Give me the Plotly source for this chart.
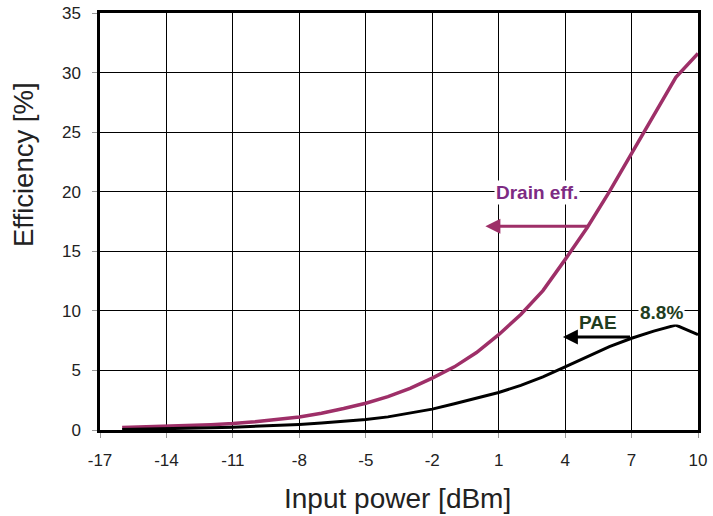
import plotly.graph_objects as go

# Input power sweep [dBm]
pin = [-16, -14, -12, -11, -10, -8, -7, -6, -5, -4, -3, -2, -1, 0, 1, 2, 3, 4, 5, 6, 7, 8, 9, 10]
# Drain efficiency [%]
drain_eff = [0.2, 0.3, 0.45, 0.55, 0.7, 1.1, 1.4, 1.8, 2.25, 2.8, 3.5, 4.35, 5.3, 6.5, 8.0, 9.7, 11.7, 14.3, 17.0, 20.0, 23.2, 26.3, 29.6, 31.6]
# Power added efficiency [%]
pae = [0.05, 0.1, 0.18, 0.24, 0.3, 0.47, 0.58, 0.7, 0.88, 1.1, 1.4, 1.75, 2.2, 2.65, 3.15, 3.75, 4.45, 5.3, 6.15, 7.0, 7.7, 8.3, 8.8, 8.0]

x_ticks = [-17, -14, -11, -8, -5, -2, 1, 4, 7, 10]
y_ticks = [0, 5, 10, 15, 20, 25, 30, 35]

DRAIN_COLOR = "#9e2f68"
DRAIN_TEXT = "#7d2b83"
PAE_TEXT = "#1f3d20"

W, H = 713, 516
ML, MR, MT, MB = 100, 15, 13, 86

fig = go.Figure()
fig.add_trace(go.Scatter(x=pin, y=drain_eff, mode="lines",
                         line=dict(color=DRAIN_COLOR, width=3.5), showlegend=False))
fig.add_trace(go.Scatter(x=pin, y=pae, mode="lines",
                         line=dict(color="black", width=3), showlegend=False))

font = "Liberation Sans, Arial, sans-serif"

# Label arrows
fig.add_annotation(x=0.4, y=17.1, ax=5.1, ay=17.1, xref="x", yref="y", axref="x", ayref="y",
                   text="", showarrow=True, arrowhead=2, arrowsize=1, arrowwidth=3,
                   arrowcolor=DRAIN_COLOR)
fig.add_annotation(x=2.75, y=19.9, xref="x", yref="y", text="<b>Drain eff.</b>",
                   showarrow=False, bgcolor="white", borderpad=1,
                   font=dict(family=font, size=19, color=DRAIN_TEXT))
fig.add_annotation(x=3.9, y=7.8, ax=7.0, ay=7.8, xref="x", yref="y", axref="x", ayref="y",
                   text="", showarrow=True, arrowhead=2, arrowsize=1, arrowwidth=3,
                   arrowcolor="black")
fig.add_annotation(x=5.5, y=9.0, xref="x", yref="y", text="<b>PAE</b>",
                   showarrow=False, font=dict(family=font, size=19, color=PAE_TEXT))
fig.add_annotation(x=8.35, y=9.9, xref="x", yref="y", text="<b>8.8%</b>",
                   showarrow=False, bgcolor="white", borderpad=1,
                   font=dict(family=font, size=19, color=PAE_TEXT))

# Axis titles placed in paper coordinates
pw, ph = W - ML - MR, H - MT - MB
fig.add_annotation(text="Efficiency [%]", textangle=-90, showarrow=False,
                   xref="paper", yref="paper",
                   x=(24 - ML) / pw, y=(H - MB - 165) / ph, xanchor="center", yanchor="middle",
                   font=dict(family=font, size=27.5, color="#222"))
fig.add_annotation(text="Input power [dBm]", showarrow=False,
                   xref="paper", yref="paper",
                   x=(397 - ML) / pw, y=(H - MB - 498) / ph, xanchor="center", yanchor="middle",
                   font=dict(family=font, size=28, color="#222"))

fig.update_xaxes(range=[-17, 10], tickvals=x_ticks, ticktext=[str(v) for v in x_ticks],
                 showgrid=True, gridcolor="black", gridwidth=1,
                 showline=True, linecolor="black", linewidth=2.5, mirror=True,
                 ticks="outside", ticklen=5, tickcolor="#999", zeroline=False,
                 ticklabelstandoff=8, automargin=False,
                 tickfont=dict(family=font, size=17, color="#222"))
fig.update_yaxes(range=[0, 35], tickvals=y_ticks,
                 showgrid=True, gridcolor="black", gridwidth=1,
                 showline=True, linecolor="black", linewidth=2.5, mirror=True,
                 ticks="outside", ticklen=5, tickcolor="#999", zeroline=False,
                 ticklabelstandoff=8, automargin=False,
                 tickfont=dict(family=font, size=17, color="#222"))

fig.update_layout(width=W, height=H, margin=dict(l=ML, r=MR, t=MT, b=MB),
                  plot_bgcolor="white", paper_bgcolor="white")

fig.write_html("out.html")
